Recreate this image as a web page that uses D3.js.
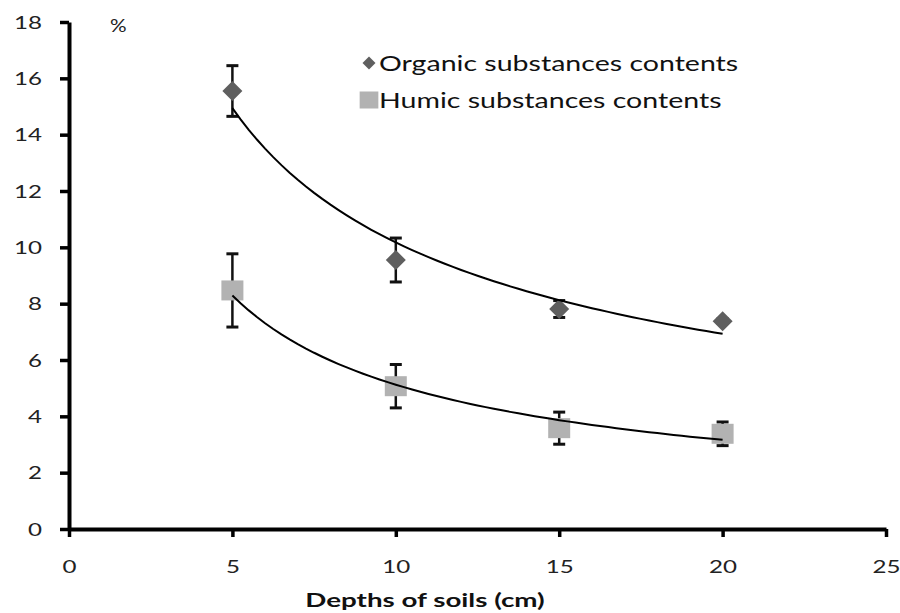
<!DOCTYPE html>
<html>
<head>
<meta charset="utf-8">
<script src="https://cdn.jsdelivr.net/npm/d3@7"></script>
<style>
  html, body { margin: 0; padding: 0; background: #fff; }
  svg { display: block; font-family: Lato, "Open Sans", sans-serif; }
</style>
</head>
<body>
<svg id="chart" width="900" height="613"></svg>
<script>
/* ---------- data ---------- */
const depths = [5, 10, 15, 20];
const organicMean = [15.55, 9.55, 7.81, 7.38];
const organicErr = [0.9, 0.78, 0.3, 0.08];
const humicMean = [8.47, 5.07, 3.58, 3.38];
const humicErr = [1.3, 0.77, 0.57, 0.42];
const xTicks = [0, 5, 10, 15, 20, 25];
const yTicks = [0, 2, 4, 6, 8, 10, 12, 14, 16, 18];
const seriesNames = ['Organic substances contents', 'Humic substances contents'];

const W = 900, H = 613;
const margin = { left: 69, right: 14, top: 22, bottom: 84 };
const SX = 1.42; // text in the reference is stretched horizontally

const svg = d3.select('#chart');
const x = d3.scaleLinear().domain([0, 25]).range([margin.left, W - margin.right]);
const y = d3.scaleLinear().domain([0, 18]).range([H - margin.bottom, margin.top]);

// power trendline (least squares on log-log), same as spreadsheet "power" fit
function powerFit(xs, ys) {
  const lx = xs.map(Math.log), ly = ys.map(Math.log);
  const mx = d3.mean(lx), my = d3.mean(ly);
  const b = d3.sum(lx, (v, i) => (v - mx) * (ly[i] - my)) / d3.sum(lx, v => (v - mx) * (v - mx));
  const a = Math.exp(my - b * mx);
  return t => a * Math.pow(t, b);
}

// stretch a text horizontally, keeping its anchor at (px, py) in parent coords
function stretch(sel, sx, px, py) {
  sel.attr('x', null).attr('y', null)
    .attr('transform', `translate(${px},${py}) scale(${sx},1)`);
}

/* ---------- axes ---------- */
const yAxis = svg.append('g')
  .attr('transform', `translate(${margin.left},0)`)
  .call(d3.axisLeft(y).tickValues(yTicks).tickSize(9).tickSizeOuter(0));
const xAxis = svg.append('g')
  .attr('transform', `translate(0,${H - margin.bottom})`)
  .call(d3.axisBottom(x).tickValues(xTicks).tickSize(6).tickSizeOuter(0));

[yAxis, xAxis].forEach(g => {
  g.select('.domain').style('stroke', '#000').style('stroke-width', '4px');
  g.selectAll('.tick line').style('stroke', '#000').style('stroke-width', '3.5px');
  g.selectAll('.tick text').attr('fill', '#222').attr('font-size', 17).attr('font-family', 'Lato, sans-serif');
});
xAxis.selectAll('.tick line').attr('y1', 0).attr('y2', 8);
yAxis.selectAll('.tick line').attr('x1', 0);
yAxis.selectAll('.tick text').attr('dy', '0.36em').call(stretch, SX, -27, 0);
xAxis.selectAll('.tick text').attr('dy', '0.71em').call(stretch, SX, 0, 32);

// axis labels
svg.append('text')
  .attr('text-anchor', 'middle')
  .attr('font-size', 19).attr('font-weight', 'bold').attr('fill', '#111')
  .text('Depths of soils (cm)')
  .call(stretch, 1.46, 425, 607);
svg.append('text')
  .attr('font-size', 18).attr('fill', '#222')
  .text('%')
  .call(stretch, 1.15, 110, 32);

/* ---------- series ---------- */
const series = [
  { name: seriesNames[0], mean: organicMean, err: organicErr, shape: 'diamond', color: '#5f5f5f' },
  { name: seriesNames[1], mean: humicMean, err: humicErr, shape: 'square', color: '#b2b2b2' }
];

function drawMarker(g, shape, color, cx, cy, r) {
  if (shape === 'diamond') {
    g.append('path')
      .attr('d', `M${cx},${cy - r}L${cx + r},${cy}L${cx},${cy + r}L${cx - r},${cy}Z`)
      .attr('fill', color);
  } else {
    g.append('rect')
      .attr('x', cx - r * 1.1).attr('y', cy - r)
      .attr('width', r * 2.2).attr('height', r * 2)
      .attr('fill', color);
  }
}

series.forEach(s => {
  const g = svg.append('g');
  // error bars
  depths.forEach((d, i) => {
    const lo = y(s.mean[i] - s.err[i]), hi = y(s.mean[i] + s.err[i]);
    g.append('line').attr('x1', x(d)).attr('x2', x(d)).attr('y1', lo).attr('y2', hi)
      .attr('stroke', '#111').attr('stroke-width', 2.5);
    [lo, hi].forEach(v => g.append('line')
      .attr('x1', x(d) - 6).attr('x2', x(d) + 6).attr('y1', v).attr('y2', v)
      .attr('stroke', '#111').attr('stroke-width', 3));
  });
  // markers
  depths.forEach((d, i) => drawMarker(g, s.shape, s.color, x(d), y(s.mean[i]), 10));
  // trendline
  const f = powerFit(depths, s.mean);
  const pts = d3.range(5, 20.01, 0.25);
  g.append('path')
    .datum(pts)
    .attr('d', d3.line().x(t => x(t)).y(t => y(f(t))))
    .attr('fill', 'none').attr('stroke', '#000').attr('stroke-width', 2);
});

/* ---------- legend ---------- */
const legend = svg.append('g');
series.forEach((s, i) => {
  const ly = 63 + i * 37;
  drawMarker(legend, s.shape, s.color, 369, ly, s.shape === 'diamond' ? 6.5 : 8.5);
  legend.append('text')
    .attr('font-size', 21).attr('fill', '#111')
    .text(s.name)
    .call(stretch, 1.36, 379, ly + 7.5);
});
</script>
</body>
</html>
